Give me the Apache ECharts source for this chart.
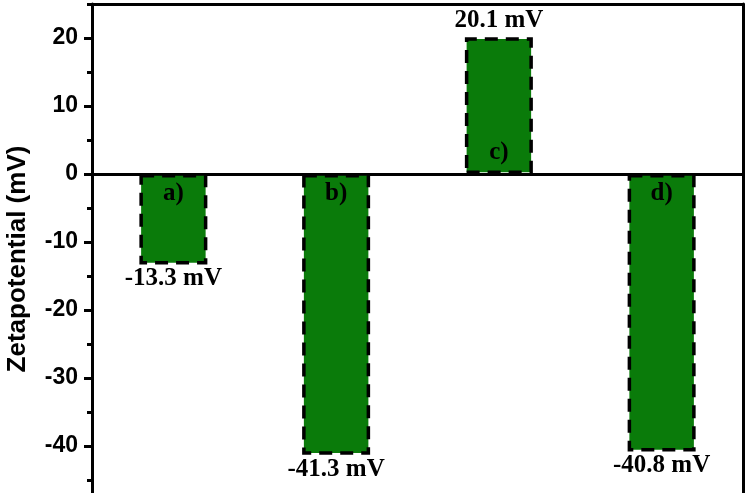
<!DOCTYPE html>
<html>
<head>
<meta charset="utf-8">
<script src="https://cdn.jsdelivr.net/npm/echarts@6/dist/echarts.min.js"></script>
<style>html,body{margin:0;padding:0;background:#fff}#c{width:750px;height:493px}</style>
</head>
<body>
<div id="c"></div>
<script>
var categories = ['a)', 'b)', 'c)', 'd)'];
var zetaValues = [-13.3, -41.3, 20.1, -40.8];
var valueLabels = ['-13.3 mV', '-41.3 mV', '20.1 mV', '-40.8 mV'];
var yAxisName = 'Zetapotential (mV)';

var chart = echarts.init(document.getElementById('c'), null, {renderer: 'canvas'});
var serif = '"Liberation Serif", "Times New Roman", serif';
var sans = '"Liberation Sans", Arial, sans-serif';
var green = '#0a7b0a';

var mainData = zetaValues.map(function (v, i) {
  return {
    value: v,
    label: {
      position: v < 0 ? 'bottom' : 'top',
      distance: v < 0 ? 2 : 4,
      formatter: valueLabels[i]
    }
  };
});
var letterData = zetaValues.map(function (v, i) {
  return {
    value: v,
    label: {
      position: v < 0 ? 'insideTop' : 'insideBottom',
      distance: v < 0 ? 7 : 9,
      formatter: categories[i]
    }
  };
});

chart.setOption({
  animation: false,
  grid: {left: 92, width: 651, top: 4, height: 510, containLabel: false, outerBoundsMode: 'none'},
  xAxis: [
    {type: 'category', data: categories, position: 'bottom',
     axisLine: {onZero: true, lineStyle: {color: '#000', width: 3}},
     axisTick: {show: false}, axisLabel: {show: false}, splitLine: {show: false}},
    {type: 'category', data: categories, position: 'top',
     axisLine: {show: true, onZero: false, lineStyle: {color: '#000', width: 3}},
     axisTick: {show: false}, axisLabel: {show: false}, splitLine: {show: false}}
  ],
  yAxis: [
    {type: 'value', min: -50, max: 25, interval: 10, position: 'left',
     name: yAxisName, nameLocation: 'middle', nameGap: 61,
     nameTextStyle: {fontFamily: sans, fontWeight: 'bold', fontSize: 26, color: '#000'},
     axisLine: {show: true, onZero: false, lineStyle: {color: '#000', width: 3}},
     axisTick: {show: true, length: 8, lineStyle: {color: '#000', width: 3}},
     axisLabel: {margin: 14, fontFamily: sans, fontWeight: 'bold', fontSize: 23, color: '#000',
                 showMaxLabel: false, showMinLabel: true},
     splitLine: {show: false}},
    {type: 'value', min: -50, max: 25, interval: 5, position: 'left',
     axisLine: {show: false}, axisTick: {show: true, length: 5, lineStyle: {color: '#000', width: 3}},
     axisLabel: {show: false}, splitLine: {show: false}},
    {type: 'value', min: -50, max: 25, interval: 5, position: 'right',
     axisLine: {show: true, onZero: false, lineStyle: {color: '#000', width: 3}},
     axisTick: {show: false}, axisLabel: {show: false}, splitLine: {show: false}}
  ],
  series: [
    {type: 'bar', xAxisIndex: 0, yAxisIndex: 0, barWidth: 68, data: mainData,
     itemStyle: {color: green, borderColor: '#000', borderWidth: 3.5, borderType: [13, 8]},
     label: {show: true, fontFamily: serif, fontWeight: 'bold', fontSize: 25, color: '#000'}},
    {type: 'bar', xAxisIndex: 0, yAxisIndex: 0, barWidth: 68, barGap: '-100%', data: letterData,
     itemStyle: {color: 'rgba(0,0,0,0)'}, silent: true, z: 3,
     label: {show: true, fontFamily: serif, fontWeight: 'bold', fontSize: 25, color: '#000'}}
  ]
});
</script>
</body>
</html>
